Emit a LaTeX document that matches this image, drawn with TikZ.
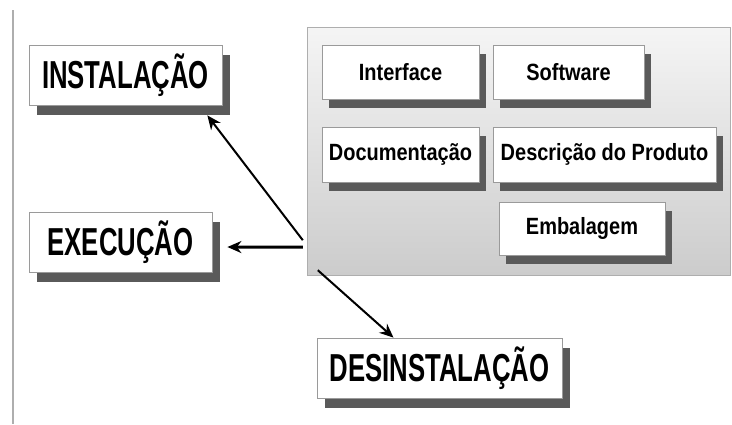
\documentclass[tikz,border=0pt]{standalone}
\usepackage{fontspec}
\setmainfont{Liberation Sans}
\newfontfamily\bigfont[FakeStretch=0.66]{Liberation Sans}
\newfontfamily\smallfont[FakeStretch=0.85]{Liberation Sans}
\usetikzlibrary{arrows.meta,shadows}
\definecolor{shadowgray}{HTML}{5A5A5A}
\definecolor{rimgray}{HTML}{9A9A9A}
\tikzset{
  phase/.style={draw=rimgray,fill=white,line width=0.8pt,minimum height=60,
    font=\bigfont\bfseries\fontsize{39}{40}\selectfont,
    drop shadow={shadow xshift=8pt,shadow yshift=-10pt,fill=shadowgray,opacity=1}},
  part/.style={draw=rimgray,fill=white,line width=0.8pt,minimum height=54,
    font=\smallfont\bfseries\fontsize{23.5}{24}\selectfont,
    drop shadow={shadow xshift=7pt,shadow yshift=-9pt,fill=shadowgray,opacity=1}},
  arr/.style={-{Stealth[length=14pt,width=12pt]},line width=2pt}
}
\begin{document}
\begin{tikzpicture}[x=1pt,y=-1pt]
\useasboundingbox (0,0) rectangle (732,424);
\draw[rimgray!80,line width=1.6pt] (13,10) -- (13,424);
% product package
\node[draw=rimgray!80,top color=gray!8,bottom color=gray!40,minimum width=423,minimum height=248] (pack) at (518.5,151) {};
\node[part,minimum width=157] (iface) at (400.5,72) {Interface};
\node[part,minimum width=151] (soft) at (568.5,72) {Software};
\node[part,minimum width=157,minimum height=55] (doc) at (400.5,154.5) {Documentação};
\node[part,minimum width=223,minimum height=55] (desc) at (604.5,154.5) {Descrição do Produto};
\node[part,minimum width=166,minimum height=53] (emb) at (582,228.5) {Embalagem};
% phases
\node[phase,minimum width=193] (inst) at (125.5,75) {INSTALAÇÃO};
\node[phase,minimum width=183] (exec) at (120.5,242) {EXECUÇÃO};
\node[phase,minimum width=245] (desinst) at (439.5,368) {DESINSTALAÇÃO};
\draw[arr] ([xshift=-4pt,yshift=35pt]pack.south west) -- ([xshift=-15pt,yshift=-10pt]inst.south east);
\draw[arr,line width=3pt] ([xshift=-4pt,yshift=28pt]pack.south west) -- ([xshift=15pt,yshift=-5pt]exec.east);
\draw[arr] ([xshift=11pt,yshift=5pt]pack.south west) -- ([xshift=-46pt]desinst.north);
\end{tikzpicture}
\end{document}
